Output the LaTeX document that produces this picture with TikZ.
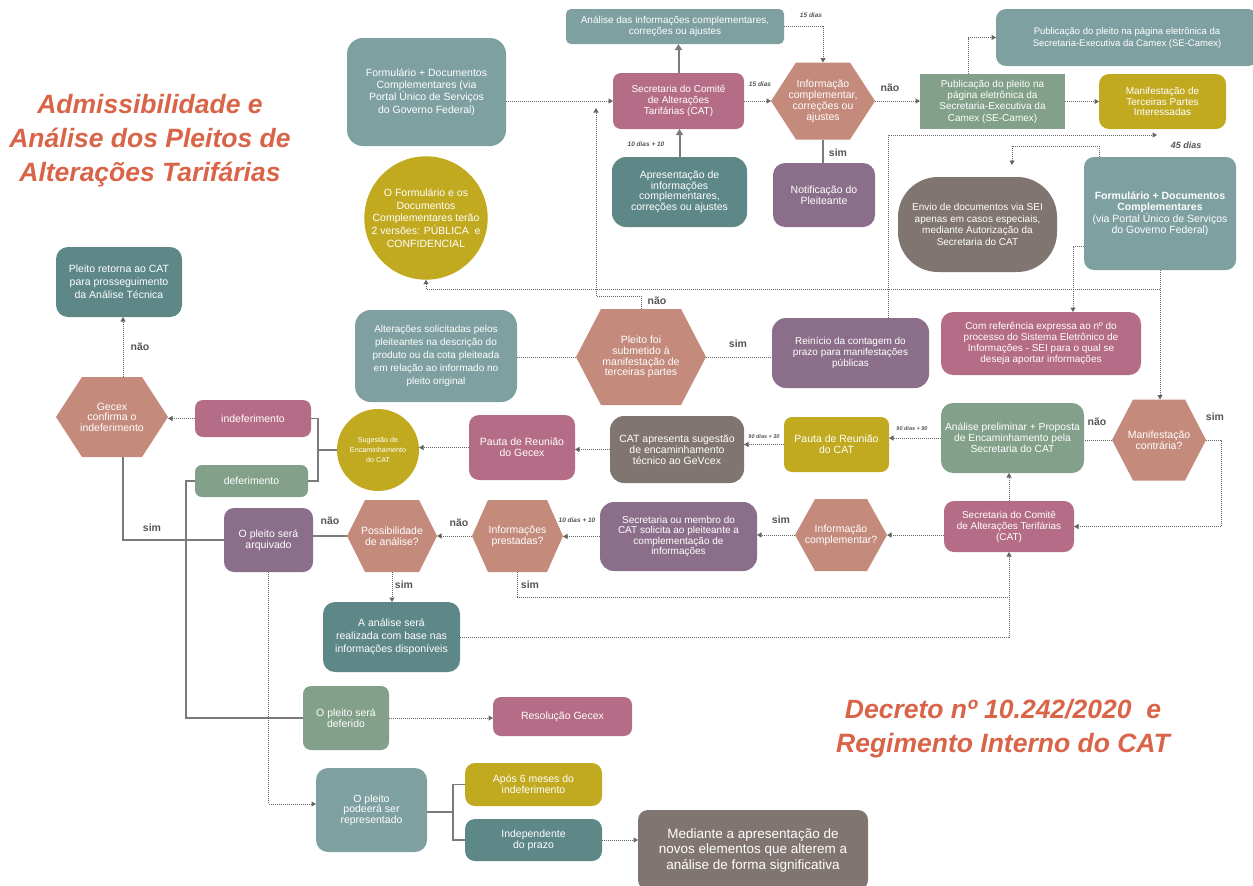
\documentclass[tikz,border=0pt]{standalone}
\usepackage{fontspec}
\setmainfont{Liberation Sans}
\usetikzlibrary{arrows.meta}
\definecolor{cTeal}{RGB}{127,160,160}
\definecolor{cDTeal}{RGB}{94,135,136}
\definecolor{cPink}{RGB}{181,108,134}
\definecolor{cPurple}{RGB}{139,111,138}
\definecolor{cSalmon}{RGB}{196,138,124}
\definecolor{cGreen}{RGB}{131,160,139}
\definecolor{cMust}{RGB}{193,170,32}
\definecolor{cBrown}{RGB}{128,117,113}
\definecolor{cTitle}{RGB}{217,100,72}
\definecolor{cLine}{RGB}{100,100,100}
\definecolor{cLab}{RGB}{85,85,85}
\newcommand\fsz[2]{\fontsize{#1}{#2}\selectfont}
\tikzset{
 base/.style={inner sep=0pt, outer sep=0pt, align=center, text=white, font=\fsz{10}{11.5}},
 box/.style={base, rectangle},
 hexa/.style n args={4}{base, rectangle, fill=white, minimum width=#1, minimum height=#2,
   path picture={\fill[#4] ([xshift=#3]path picture bounding box.north west) -- ([xshift=-#3]path picture bounding box.north east) -- (path picture bounding box.east) -- ([xshift=-#3]path picture bounding box.south east) -- ([xshift=#3]path picture bounding box.south west) -- (path picture bounding box.west) -- cycle;}},
 lab/.style={inner sep=0pt, text=cLab, font=\fsz{10.5}{12}\bfseries},
 days/.style={inner sep=0pt, text=cLab, font=\fsz{6.5}{7}\bfseries\itshape},
 dl/.style={draw=cLine, line width=1pt, dash pattern=on 1pt off 1pt},
 sl/.style={draw=cLine!85, line width=1.4pt},
 arr/.style={-{Triangle[length=4.5pt,width=5pt]}},
 arrb/.style={-{Triangle[length=6pt,width=7pt]}},
 ttl/.style={inner sep=0pt, align=center, text=cTitle, font=\fsz{26.5}{34}\bfseries\itshape},
}
\begin{document}
\begin{tikzpicture}[x=1pt,y=-1pt]
\useasboundingbox (0,0) rectangle (1253,886);
\clip (0,0) rectangle (1253,886);
\fill[white] (0,0) rectangle (1253,886);

% titles
\node[ttl] (t1) at (150,141) {Admissibilidade e\\Análise dos Pleitos de\\Alterações Tarifárias};
\node[ttl] (t2) at (1003,729) {Decreto nº 10.242/2020\ \ e\\Regimento Interno do CAT};

% top area
\node[box, fill=cTeal, rounded corners=5pt, minimum width=218pt, minimum height=35pt] (aana) at (675,26.5) {Análise das informações complementares,\\correções ou ajustes};
\node[box, fill=cTeal, rounded corners=16pt, minimum width=159pt, minimum height=108pt, font=\fsz{10.5}{12.4}] (form1) at (426.5,92) {Formulário + Documentos\\Complementares (via\\Portal Único de Serviços\\do Governo Federal)};
\node[box, fill=cPink, rounded corners=8pt, minimum width=131pt, minimum height=56pt, font=\fsz{10}{10.8}] (cat1) at (678.5,101) {Secretaria do Comitê\\de Alterações\\Tarifárias (CAT)};
\node[box, fill=cDTeal, rounded corners=14pt, minimum width=135pt, minimum height=70pt, font=\fsz{10.5}{10.6}] (apres) at (679.5,192) {Apresentação de\\informações\\complementares,\\correções ou ajustes};
\node[base, circle, fill=cMust, minimum size=122pt, font=\fsz{10.5}{12.7}] (circ) at (426,218) {O Formulário e os\\Documentos\\Complementares terão\\2 versões: PÚBLICA~ e\\CONFIDENCIAL};
\node[hexa={104pt}{77pt}{25pt}{cSalmon}, font=\fsz{10.5}{11}] (info) at (823,101) {Informação\\complementar,\\correções ou\\ajustes};
\node[box, fill=cPurple, rounded corners=12pt, minimum width=102pt, minimum height=64pt, font=\fsz{10.5}{11}] (notif) at (824,195) {Notificação do\\Pleiteante};
\node[box, fill=cGreen, minimum width=145pt, minimum height=55pt, font=\fsz{10}{11.3}] (pub2) at (992.5,101.5) {Publicação do pleito na\\página eletrônica da\\Secretaria-Executiva da\\Camex (SE-Camex)};
\node[box, fill=cTeal, rounded corners=10pt, minimum width=262pt, minimum height=57pt, font=\fsz{9.5}{12}] (pub1) at (1127,37.5) {Publicação do pleito na página eletrônica da\\Secretaria-Executiva da Camex (SE-Camex)};
\node[box, fill=cMust, rounded corners=10pt, minimum width=127pt, minimum height=55pt, font=\fsz{10}{10.8}] (man3) at (1162.5,101.5) {Manifestação de\\Terceiras Partes\\Interessadas};
\node[box, fill=cBrown, rounded corners=40pt, minimum width=159pt, minimum height=95pt, font=\fsz{10}{11.5}] (envio) at (977.5,224.5) {Envio de documentos via SEI\\apenas em casos especiais,\\mediante Autorização da\\Secretaria do CAT};
\node[box, fill=cTeal, rounded corners=10pt, minimum width=152pt, minimum height=113pt, font=\fsz{10.5}{11}] (form2) at (1160,213.5) {\textbf{Formulário + Documentos}\\\textbf{Complementares}\\(via Portal Único de Serviços\\do Governo Federal)};
\node[box, fill=cPink, rounded corners=12pt, minimum width=200pt, minimum height=63pt, font=\fsz{10}{11}] (comref) at (1041,343.5) {Com referência expressa ao nº do\\processo do Sistema Eletrônico de\\Informações - SEI para o qual se\\deseja aportar informações};
\node[box, fill=cPurple, rounded corners=14pt, minimum width=157pt, minimum height=70pt, font=\fsz{10}{11}] (reinicio) at (850.5,353) {Reinício da contagem do\\prazo para manifestações\\públicas};
\node[hexa={130pt}{96pt}{25pt}{cSalmon}, font=\fsz{10.5}{10.7}] (pleito) at (641,357) {Pleito foi\\submetido à\\manifestação de\\terceiras partes};
\node[box, fill=cTeal, rounded corners=16pt, minimum width=162pt, minimum height=92pt, font=\fsz{10}{12.8}] (alter) at (436,356) {Alterações solicitadas pelos\\pleiteantes na descrição do\\produto ou da cota pleiteada\\em relação ao informado no\\pleito original};

% left
\node[box, fill=cDTeal, rounded corners=12pt, minimum width=126pt, minimum height=70pt, font=\fsz{10.5}{13}] (retorna) at (119,282) {Pleito retorna ao CAT\\para prosseguimento\\da Análise Técnica};
\node[hexa={112pt}{80pt}{26pt}{cSalmon}, font=\fsz{10.5}{10.5}] (gecex) at (112,417) {Gecex\\confirma o\\indeferimento};
\node[box, fill=cPink, rounded corners=8pt, minimum width=116pt, minimum height=37pt, font=\fsz{10.5}{11}] (indef) at (253,418.5) {indeferimento};
\node[box, fill=cGreen, rounded corners=7pt, minimum width=113pt, minimum height=32pt, font=\fsz{10.5}{11}] (defer) at (251.5,481) {deferimento};
\node[base, circle, fill=cMust, minimum size=82pt, font=\fsz{7.2}{10}] (sugest) at (378,450) {Sugestão de\\Encaminhamento\\do CAT};

% middle row
\node[box, fill=cPink, rounded corners=10pt, minimum width=106pt, minimum height=65pt, font=\fsz{10.5}{11}] (pgecex) at (522,447.5) {Pauta de Reunião\\do Gecex};
\node[box, fill=cBrown, rounded corners=14pt, minimum width=134pt, minimum height=67pt, font=\fsz{10.5}{10.8}] (catap) at (677,449.5) {CAT apresenta sugestão\\de encaminhamento\\técnico ao GeVcex};
\node[box, fill=cMust, rounded corners=8pt, minimum width=105pt, minimum height=55pt, font=\fsz{10.5}{11}] (pcat) at (836.5,444.5) {Pauta de Reunião\\do CAT};
\node[box, fill=cGreen, rounded corners=12pt, minimum width=143pt, minimum height=70pt, font=\fsz{10.3}{11}] (anpre) at (1012.5,438) {Análise preliminar + Proposta\\de Encaminhamento pela\\Secretaria do CAT};
\node[hexa={94pt}{81pt}{21pt}{cSalmon}, font=\fsz{10.5}{11}] (mancon) at (1159,440) {Manifestação\\contrária?};
\node[box, fill=cPink, rounded corners=10pt, minimum width=130pt, minimum height=51pt, font=\fsz{10}{11}] (cat2) at (1009,526.5) {Secretaria do Comitê\\de Alterações Terifárias\\(CAT)};

% lower row
\node[hexa={92pt}{72pt}{20pt}{cSalmon}, font=\fsz{10.5}{11}] (infoc) at (841,535) {Informação\\complementar?};
\node[box, fill=cPurple, rounded corners=14pt, minimum width=157pt, minimum height=69pt, font=\fsz{10}{10.5}] (secm) at (678.5,536.5) {Secretaria ou membro do\\CAT solicita ao pleiteante a\\complementação de\\informações};
\node[hexa={91pt}{72pt}{16pt}{cSalmon}, font=\fsz{10.5}{11}] (infop) at (517.5,536) {Informações\\prestadas?};
\node[hexa={90pt}{72pt}{18pt}{cSalmon}, font=\fsz{10.5}{11}] (possib) at (392,536) {Possibilidade\\de análise?};
\node[box, fill=cPurple, rounded corners=10pt, minimum width=89pt, minimum height=64pt, font=\fsz{10.5}{11}] (arq) at (268.5,540) {O pleito será\\arquivado};
\node[box, fill=cDTeal, rounded corners=12pt, minimum width=137pt, minimum height=70pt, font=\fsz{10.5}{13}] (anal) at (391.5,637) {A análise será\\realizada com base nas\\informações disponíveis};
\node[box, fill=cGreen, rounded corners=8pt, minimum width=86pt, minimum height=64pt, font=\fsz{10.5}{11}] (defd) at (346,718) {O pleito será\\deferido};
\node[box, fill=cPink, rounded corners=8pt, minimum width=139pt, minimum height=39pt, font=\fsz{10.5}{11}] (resol) at (562.5,716.5) {Resolução Gecex};
\node[box, fill=cTeal, rounded corners=12pt, minimum width=111pt, minimum height=84pt, font=\fsz{10.5}{10.6}] (podera) at (371.5,810) {O pleito\\podeerá ser\\representado};
\node[box, fill=cMust, rounded corners=10pt, minimum width=137pt, minimum height=43pt, font=\fsz{10.5}{11}] (apos) at (533.5,784.5) {Após 6 meses do\\indeferimento};
\node[box, fill=cDTeal, rounded corners=10pt, minimum width=137pt, minimum height=42pt, font=\fsz{10.5}{11}] (indep) at (533.5,840) {Independente\\do prazo};
\node[box, fill=cBrown, rounded corners=10pt, minimum width=230pt, minimum height=80pt, font=\fsz{13.5}{15.5}] (mediante) at (753,850) {Mediante a apresentação de\\novos elementos que alterem a\\análise de forma significativa};

% connectors top
\draw[dl,arr] (form1.east |- cat1.west) -- (cat1.west);
\coordinate (naoturn) at (596,296);
\coordinate (catin) at (596,108);
\draw[dl,arr] (pleito.north) |- (naoturn) -- (catin);
\draw[dl,arr] (form2.south) -- (form2.south |- mancon.north);
\coordinate (j289) at (1160,289);
\draw[dl,arr] (j289) -| (circ.south);
\draw[dl,arr] ([yshift=-32.5pt]form2.west) -| ([xshift=32pt]comref.north);
\coordinate (d45) at (1157,135);
\draw[dl,arr] ([xshift=37.5pt]reinicio.north) |- (d45);
\draw[dl,arr] ([xshift=-61pt]form2.north) -- ++(0,-11) -| ([xshift=34.5pt,yshift=12pt]envio.north);
\draw[dl,arr] ([xshift=-24.5pt]pub2.north) |- (pub1.west);
\draw[dl,arr] (pub2.east) -- (man3.west);
\draw[dl,arr] (info.east) -- (info.east -| pub2.west);
\draw[dl,arr] (cat1.east) -- (info.west);
\draw[dl,arr] (aana.east) -| (info.north);
\draw[sl,line width=2pt,arrb] (cat1.north) -- (cat1.north |- aana.south);
\draw[sl,line width=2pt,arrb] (apres.north) -- (apres.north |- cat1.south);
\draw[sl,line width=2pt] (info.south) -- (info.south |- notif.north);
\draw[dl] (pleito.west) -- (pleito.west -| alter.east);
\draw[dl] (pleito.east) -- (pleito.east -| reinicio.west);

% connectors left
\draw[dl,arr] (indef.west) -- (indef.west -| gecex.east);
\draw[dl,arr] ([xshift=4pt]retorna.south |- gecex.north) -- ([xshift=4pt]retorna.south);
\draw[sl] ([xshift=11pt]gecex.south) |- (arq.west);
\coordinate (b1) at (318,450);
\draw[sl] (indef.east) -| (b1) |- (defer.east);
\draw[sl] (b1) -- (sugest.west);
\draw[sl] (defer.west) -- ++(-9,0) |- (defd.west);

% connectors middle
\draw[dl,arr] (pgecex.west) -- (pgecex.west -| sugest.east);
\draw[dl,arr] (catap.west) -- (catap.west -| pgecex.east);
\draw[dl,arr] (pcat.west) -- (pcat.west -| catap.east);
\draw[dl,arr] (anpre.west) -- (anpre.west -| pcat.east);
\draw[dl] (mancon.west) -- (mancon.west -| anpre.east);
\draw[dl,arr] (mancon.east) -- ++(15,0) |- (cat2.east);
\draw[dl,arr] (cat2.north) -- (cat2.north |- anpre.south);
\draw[dl,arr] (infoc.east -| cat2.west) -- (infoc.east);
\draw[dl,arr] (infoc.west) -- (infoc.west -| secm.east);
\draw[dl,arr] (secm.west) -- (secm.west -| infop.east);
\draw[dl,arr] (infop.west) -- (infop.west -| possib.east);
\draw[sl] (possib.west) -- (possib.west -| arq.east);
\draw[dl,arr] (possib.south) -- (possib.south |- anal.north);
\coordinate (j597) at (1009,597);
\draw[dl] (infop.south) |- (j597);
\draw[dl,arr] (anal.east) -| (cat2.south);

% connectors bottom
\draw[dl,arr] (arq.south) |- ([yshift=6pt]podera.west);
\draw[dl,arr] (defd.east) -- (defd.east -| resol.west);
\coordinate (b2) at (453,812);
\draw[sl] (podera.east |- b2) -- (b2);
\draw[sl] (apos.west) -| (b2) |- (indep.west);
\draw[dl,arr] (indep.east) -- (indep.east -| mediante.west);

% labels
\node[lab] (n1) at (890,88) {não};
\node[lab] (s1) at (838,153) {sim};
\node[lab] (n2) at (657,301) {não};
\node[lab] (s2) at (738,344) {sim};
\node[lab] (n3) at (140,347) {não};
\node[lab] (s3) at (152,528) {sim};
\node[lab] (n4) at (330,521) {não};
\node[lab] (n5) at (459,523) {não};
\node[lab] (s4) at (404,585) {sim};
\node[lab] (s5) at (530,585) {sim};
\node[lab] (s6) at (781,520) {sim};
\node[lab] (n6) at (1097,422) {não};
\node[lab] (s7) at (1215,417) {sim};
\node[days] (dd1) at (760,84) {15 dias};
\node[days] (dd2) at (811,15) {15 dias};
\node[days] (dd3) at (646,144) {10 dias + 10};
\node[days] (dd4) at (577,520) {10 dias + 10};
\node[days, font=\fsz{5.5}{6}\bfseries\itshape] (dd5) at (764,437) {90 dias + 30};
\node[days, font=\fsz{5.5}{6}\bfseries\itshape] (dd6) at (912,429) {90 dias + 90};
\node[days, font=\fsz{9}{10}\bfseries\itshape] (dd7) at (1186,145) {45 dias};
\end{tikzpicture}
\end{document}
